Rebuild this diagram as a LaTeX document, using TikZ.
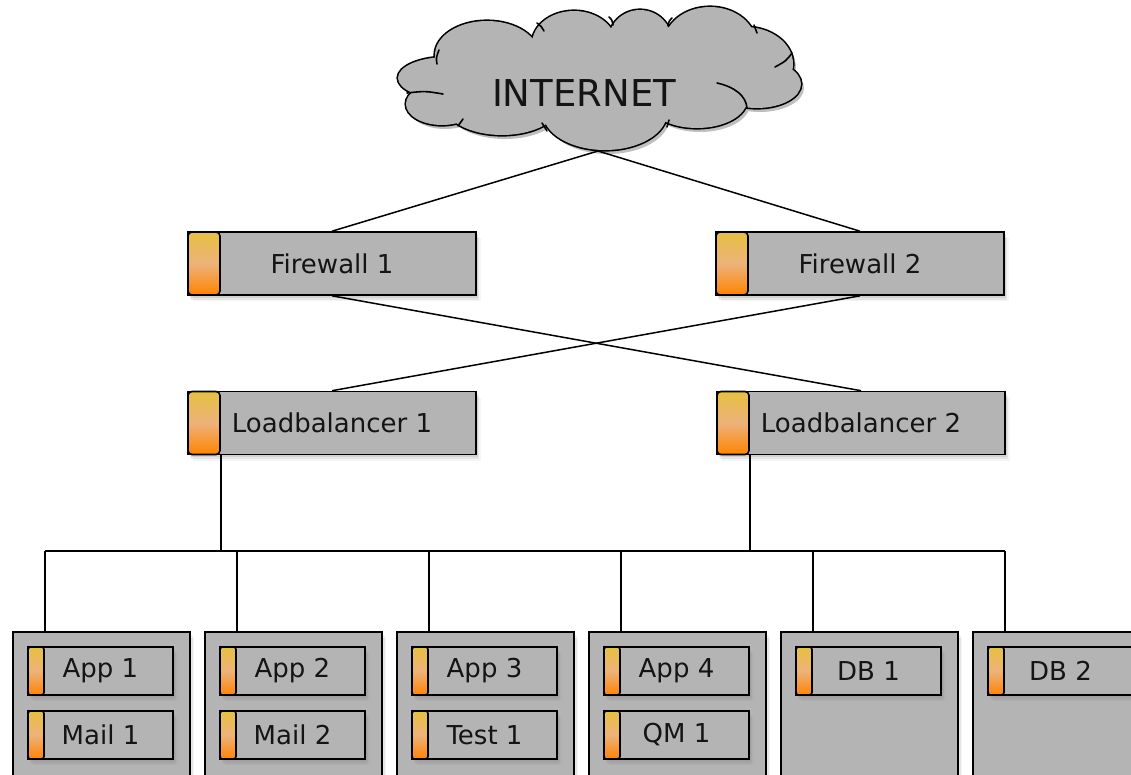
\documentclass[tikz,border=0pt]{standalone}
\usepackage{fontspec}
\setmainfont{DejaVu Sans}
\usetikzlibrary{shadows}
\definecolor{boxgray}{HTML}{B4B4B4}
\definecolor{txt}{HTML}{141414}
\definecolor{tabtop}{HTML}{E6C040}
\definecolor{tabmid}{HTML}{EDB27A}
\definecolor{tabbot}{HTML}{FF8400}
\begin{document}
\begin{tikzpicture}[x=1pt,y=-1pt,
  softshadow/.style={
    drop shadow={shadow xshift=1.5pt, shadow yshift=-2.5pt, opacity=0.18},
    drop shadow={shadow xshift=3pt, shadow yshift=-4.5pt, opacity=0.14},
    drop shadow={shadow xshift=4.5pt, shadow yshift=-6pt, opacity=0.08}},
  dev/.style={draw=black, line width=1.6pt, fill=boxgray, minimum width=288pt, minimum height=63pt,
    inner sep=0pt, font=\fontsize{26}{31}\selectfont, text=txt, softshadow},
  devtab/.style={draw=black, line width=1.6pt, rounded corners=4pt, top color=tabtop, bottom color=tabbot,
    middle color=tabmid, minimum width=32pt, minimum height=63pt, inner sep=0pt},
  svc/.style={dev, minimum width=145pt, minimum height=48pt},
  svctab/.style={devtab, minimum width=16pt, minimum height=48pt, rounded corners=2.5pt},
  srv/.style={draw=black, line width=1.6pt, fill=boxgray, minimum width=177pt, minimum height=170pt,
    inner sep=0pt, anchor=north west, softshadow},
  link/.style={line width=1.5pt, draw=black},
  puffs/.style={insert path={
    (487,55) ellipse [x radius=52, y radius=34]
    (574,44) ellipse [x radius=42, y radius=33]
    (640,42) ellipse [x radius=32, y radius=32]
    (710,44) ellipse [x radius=46, y radius=37]
    (745,64) ellipse [x radius=48, y radius=37]
    (757,84) ellipse [x radius=44, y radius=24]
    (697,100) ellipse [x radius=50, y radius=28]
    (605,113) ellipse [x radius=62, y radius=37]
    (502,104) ellipse [x radius=58, y radius=31]
    (442,104) ellipse [x radius=36, y radius=21]
    (447,78) ellipse [x radius=49, y radius=21]
    (595,80) ellipse [x radius=150, y radius=45]}},
  curl/.style={line width=1.6pt, draw=black, line cap=round}
]
\useasboundingbox (0,0) rectangle (1131,774);

% ---- cloud ----
\begin{scope}[transparency group, opacity=0.25]
  \fill[black, shift={(3,4)}, puffs];
\end{scope}
\draw[line width=3.2pt, puffs];
\fill[boxgray, puffs];
\draw[curl] (437,64) .. controls (436,58) .. (439,50);
\draw[curl] (537,23) .. controls (541,26) .. (544,31);
\draw[curl] (609,17) .. controls (612,20) .. (613,25);
\draw[curl] (672,18) .. controls (669,21) .. (668,26);
\draw[curl] (754,25) .. controls (756,29) .. (757,33);
\draw[curl] (792,53) .. controls (786,61) .. (775,67);
\draw[curl] (717,83) .. controls (735,87) and (746,96) .. (747,108);
\draw[curl] (667,127) .. controls (668,124) .. (669,120);
\draw[curl] (547,131) .. controls (545,127) .. (542,123);
\draw[curl] (407,93) .. controls (425,91) .. (443,94);
\draw[curl] (458,126) .. controls (460,123) .. (463,119);
\node[font=\fontsize{37}{44}\selectfont, text=txt, inner sep=0pt] (inet) at (584,93) {INTERNET};
\coordinate (cloudb) at (598,151);

% ---- devices ----
\node[dev] (fw1) at (332,263.5) {Firewall 1};
\node[devtab, anchor=west] (fw1t) at (fw1.west) {};
\node[dev] (fw2) at (860,263.5) {Firewall 2};
\node[devtab, anchor=west] (fw2t) at (fw2.west) {};
\node[dev] (lb1) at (332,423) {Loadbalancer 1};
\node[devtab, anchor=west] (lb1t) at (lb1.west) {};
\node[dev] (lb2) at (861,423) {Loadbalancer 2};
\node[devtab, anchor=west] (lb2t) at (lb2.west) {};

% ---- links ----
\draw[link] (cloudb) -- (fw1.north);
\draw[link] (cloudb) -- (fw2.north);
\draw[link] (fw1.south) -- (lb2.north);
\draw[link] (fw2.south) -- (lb1.north);

\coordinate (busL) at (45,551);
\coordinate (busR) at (1005,551);
\draw[link] (lb1t.south east) -- (lb1t.south east |- busL);
\draw[link] (lb2t.south east) -- (lb2t.south east |- busL);
\draw[link] (busL) -- (busR);

% ---- servers ----
\foreach \i in {0,...,5}{
  \node[srv] (srv\i) at (12+192*\i,631) {};
  \coordinate (drop\i) at (45+192*\i,551);
  \draw[link] (drop\i) -- (drop\i |- srv\i.north);
}
\foreach \i/\a/\b in {0/App 1/Mail 1, 1/App 2/Mail 2, 2/App 3/Test 1, 3/App 4/QM 1}{
  \node[svc] (app\i) at (100.5+192*\i,671) {\a};
  \node[svctab, anchor=west] (appt\i) at (app\i.west) {};
  \node[svc] (sub\i) at (100.5+192*\i,735) {\b};
  \node[svctab, anchor=west] (subt\i) at (sub\i.west) {};
}
\foreach \i/\a in {4/DB 1, 5/DB 2}{
  \node[svc] (app\i) at (100.5+192*\i,671) {\a};
  \node[svctab, anchor=west] (appt\i) at (app\i.west) {};
}
\end{tikzpicture}
\end{document}
